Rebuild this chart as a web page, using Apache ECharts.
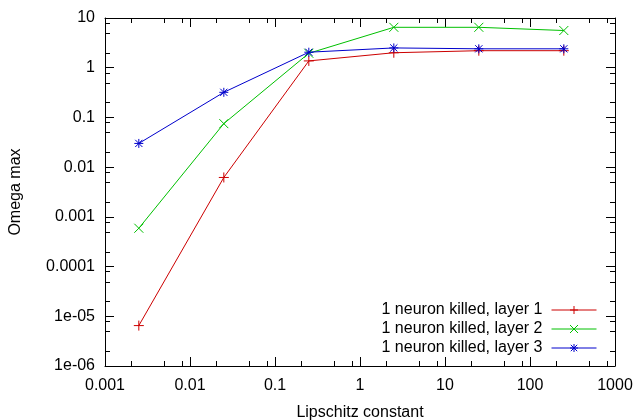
<!DOCTYPE html>
<html>
<head>
<meta charset="utf-8">
<script src="https://cdn.jsdelivr.net/npm/echarts@6/dist/echarts.min.js"></script>
<style>
  html, body { margin: 0; padding: 0; background: #fff; }
  #chart { width: 635px; height: 420px; }
</style>
</head>
<body>
<div id="chart"></div>
<script>
// Lipschitz constant values (x) and Omega max per killed-neuron layer
const lipschitz = [0.0025, 0.025, 0.25, 2.5, 25, 250];
const layer1 = [6.5e-6, 6.2e-3, 1.37, 2.0, 2.2, 2.2];
const layer2 = [5.9e-4, 0.075, 1.95, 6.5, 6.5, 5.6];
const layer3 = [0.030, 0.32, 2.05, 2.5, 2.4, 2.4];
const seriesNames = ['1 neuron killed, layer 1', '1 neuron killed, layer 2', '1 neuron killed, layer 3'];

const xTickLabels = ['0.001', '0.01', '0.1', '1', '10', '100', '1000'];
const yTickLabels = ['1e-06', '1e-05', '0.0001', '0.001', '0.01', '0.1', '1', '10'];
const minorSteps = [2, 5, 8];

const font = '"Liberation Sans", Arial, sans-serif';
const fs = 16;
const colors = ['#cc0000', '#00c000', '#0000cc'];
const symbols = [
    'path://M0,5L10,5M5,0L5,10',
    'path://M0,0L10,10M0,10L10,0',
    'path://M0,5L10,5M5,0L5,10M1,1L9,9M1,9L9,1'
];

// minor tick positions (2, 5, 8 of every decade), flag 0 = x axis, 1 = y axis
const minorData = [];
for (let e = -3; e < 3; e++) minorSteps.forEach(m => minorData.push([m * Math.pow(10, e), 1, 0]));
for (let e = -6; e < 1; e++) minorSteps.forEach(m => minorData.push([1, m * Math.pow(10, e), 1]));

function pair(xs, ys) { return xs.map((x, i) => [x, ys[i]]); }

function tickLine(x1, y1, x2, y2) {
    return { type: 'line', shape: { x1: x1, y1: y1, x2: x2, y2: y2 }, style: { stroke: '#000', lineWidth: 1 } };
}

function axisBase(extra) {
    return Object.assign({
        type: 'log',
        logBase: 10,
        axisLine: { show: true, lineStyle: { color: '#000', width: 1 } },
        axisTick: { show: true, inside: true, length: 9, lineStyle: { color: '#000' } },
        splitLine: { show: false },
        minorTick: { show: false }
    }, extra);
}

let chart = echarts.init(document.getElementById('chart'));
chart.setOption({
    animation: false,
    backgroundColor: '#fff',
    textStyle: { fontFamily: font },
    grid: { left: 105, right: 20, top: 18, bottom: 54, containLabel: false, outerBoundsMode: 'none' },
    xAxis: [
        axisBase({
            min: 0.001, max: 1000, interval: 1, position: 'bottom',
            name: 'Lipschitz constant', nameLocation: 'middle', nameGap: 39,
            nameTextStyle: { color: '#000', fontSize: fs, fontFamily: font },
            axisLabel: {
                color: '#000', fontSize: fs, fontFamily: font, margin: 12,
                formatter: v => xTickLabels[Math.round(Math.log10(v)) + 3]
            }
        }),
        axisBase({ min: 0.001, max: 1000, interval: 1, position: 'top', axisLabel: { show: false } })
    ],
    yAxis: [
        axisBase({
            min: 1e-6, max: 10, interval: 1, position: 'left',
            name: 'Omega max', nameLocation: 'middle', nameGap: 81,
            nameTextStyle: { color: '#000', fontSize: fs, fontFamily: font },
            axisLabel: {
                color: '#000', fontSize: fs, fontFamily: font, margin: 10,
                formatter: v => yTickLabels[Math.round(Math.log10(v)) + 6]
            }
        }),
        axisBase({ min: 1e-6, max: 10, interval: 1, position: 'right', axisLabel: { show: false } })
    ],
    legend: {
        data: seriesNames,
        orient: 'vertical',
        right: 33,
        top: 297,
        align: 'right',
        itemWidth: 45,
        itemHeight: 10,
        itemGap: 3,
        lineStyle: { width: 1 },
        itemStyle: { borderWidth: 1 },
        textStyle: { color: '#000', fontSize: fs, fontFamily: font, padding: [0, 4, 0, 0] }
    },
    series: [
        {
            type: 'custom',
            silent: true,
            coordinateSystem: 'cartesian2d',
            data: minorData,
            encode: { x: 0, y: 1 },
            renderItem: function (params, api) {
                const cs = params.coordSys;
                if (api.value(2) === 0) {
                    const px = Math.round(api.coord([api.value(0), 1])[0]) + 0.5;
                    const b = cs.y + cs.height;
                    return { type: 'group', children: [
                        tickLine(px, b, px, b - 5),
                        tickLine(px, cs.y, px, cs.y + 5)
                    ] };
                }
                const py = Math.round(api.coord([1, api.value(1)])[1]) + 0.5;
                const r = cs.x + cs.width;
                return { type: 'group', children: [
                    tickLine(cs.x, py, cs.x + 5, py),
                    tickLine(r, py, r - 5, py)
                ] };
            }
        }
    ].concat([layer1, layer2, layer3].map((ys, i) => ({
        name: seriesNames[i],
        type: 'line',
        data: pair(lipschitz, ys),
        symbol: symbols[i],
        symbolSize: i === 0 ? 10 : 9,
        showAllSymbol: true,
        lineStyle: { color: colors[i], width: 1 },
        itemStyle: { color: colors[i], borderColor: colors[i], borderWidth: 1 },
        emphasis: { disabled: true }
    })))
});
</script>
</body>
</html>
